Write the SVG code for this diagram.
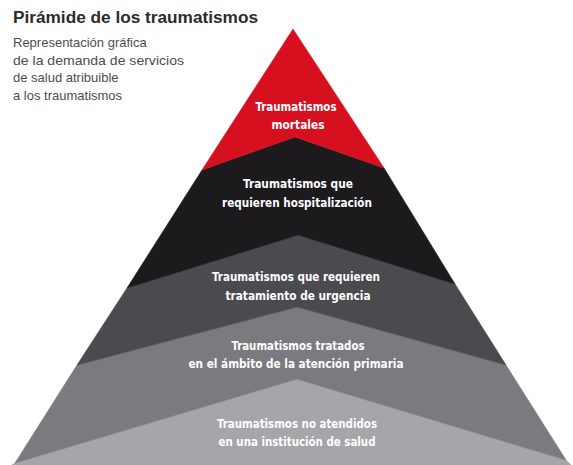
<svg xmlns="http://www.w3.org/2000/svg" width="573" height="465" viewBox="0 0 573 465">
  <style>
    .title { font-family: "Liberation Sans", Arial, sans-serif; font-weight: bold; font-size: 16px; fill: #2b2b2b; }
    .sub { font-family: "Liberation Sans", Arial, sans-serif; font-size: 13px; fill: #4d4d4d; }
    .lbl { font-family: "Liberation Sans Narrow", "DejaVu Sans Condensed", "Liberation Sans", sans-serif; font-weight: bold; font-size: 13px; fill: #ffffff; text-anchor: middle; }
    .band { stroke-width: 0.6; stroke-linejoin: round; }
  </style>
  <rect width="573" height="465" fill="#ffffff"/>
  <g id="header">
    <text class="title" x="13" y="23" textLength="245" lengthAdjust="spacingAndGlyphs">Pirámide de los traumatismos</text>
    <text class="sub" x="13" y="47">Representación gráfica</text>
    <text class="sub" x="13" y="64.5" textLength="171" lengthAdjust="spacingAndGlyphs">de la demanda de servicios</text>
    <text class="sub" x="13" y="82">de salud atribuible</text>
    <text class="sub" x="13" y="100">a los traumatismos</text>
  </g>
  <g id="nivel-5-no-atendidos">
    <polygon class="band" fill="#a6a5a9" stroke="#a6a5a9" points="15,463 297,379 566,460 571,465 12,465"/>
    <text class="lbl" x="297" y="428" textLength="160" lengthAdjust="spacingAndGlyphs">Traumatismos no atendidos</text>
    <text class="lbl" x="297" y="446" textLength="157" lengthAdjust="spacingAndGlyphs">en una institución de salud</text>
  </g>
  <g id="nivel-4-atencion-primaria">
    <polygon class="band" fill="#7b7a7e" stroke="#7b7a7e" points="77,365 297,307 506,365 566,460 297,379 15,463"/>
    <text class="lbl" x="298" y="350" textLength="133" lengthAdjust="spacingAndGlyphs">Traumatismos tratados</text>
    <text class="lbl" x="296" y="368" textLength="215" lengthAdjust="spacingAndGlyphs">en el ámbito de la atención primaria</text>
  </g>
  <g id="nivel-3-urgencia">
    <polygon class="band" fill="#4b4a4e" stroke="#4b4a4e" points="127,288 298,235 455,284 506,365 297,307 77,365"/>
    <text class="lbl" x="296" y="281" textLength="168" lengthAdjust="spacingAndGlyphs">Traumatismos que requieren</text>
    <text class="lbl" x="298" y="300" textLength="145" lengthAdjust="spacingAndGlyphs">tratamiento de urgencia</text>
  </g>
  <g id="nivel-2-hospitalizacion">
    <polygon class="band" fill="#1c1a1d" stroke="#1c1a1d" points="202,170 295,137 384,168 455,284 298,235 127,288"/>
    <text class="lbl" x="298" y="188" textLength="110" lengthAdjust="spacingAndGlyphs">Traumatismos que</text>
    <text class="lbl" x="297" y="207" textLength="150" lengthAdjust="spacingAndGlyphs">requieren hospitalización</text>
  </g>
  <g id="nivel-1-mortales">
    <polygon class="band" fill="#d7101f" stroke="#d7101f" points="293,29 384,168 295,137 202,170"/>
    <text class="lbl" x="296" y="111" textLength="81" lengthAdjust="spacingAndGlyphs">Traumatismos</text>
    <text class="lbl" x="298" y="129" textLength="53" lengthAdjust="spacingAndGlyphs">mortales</text>
  </g>
  <g id="connectors"/>
</svg>
